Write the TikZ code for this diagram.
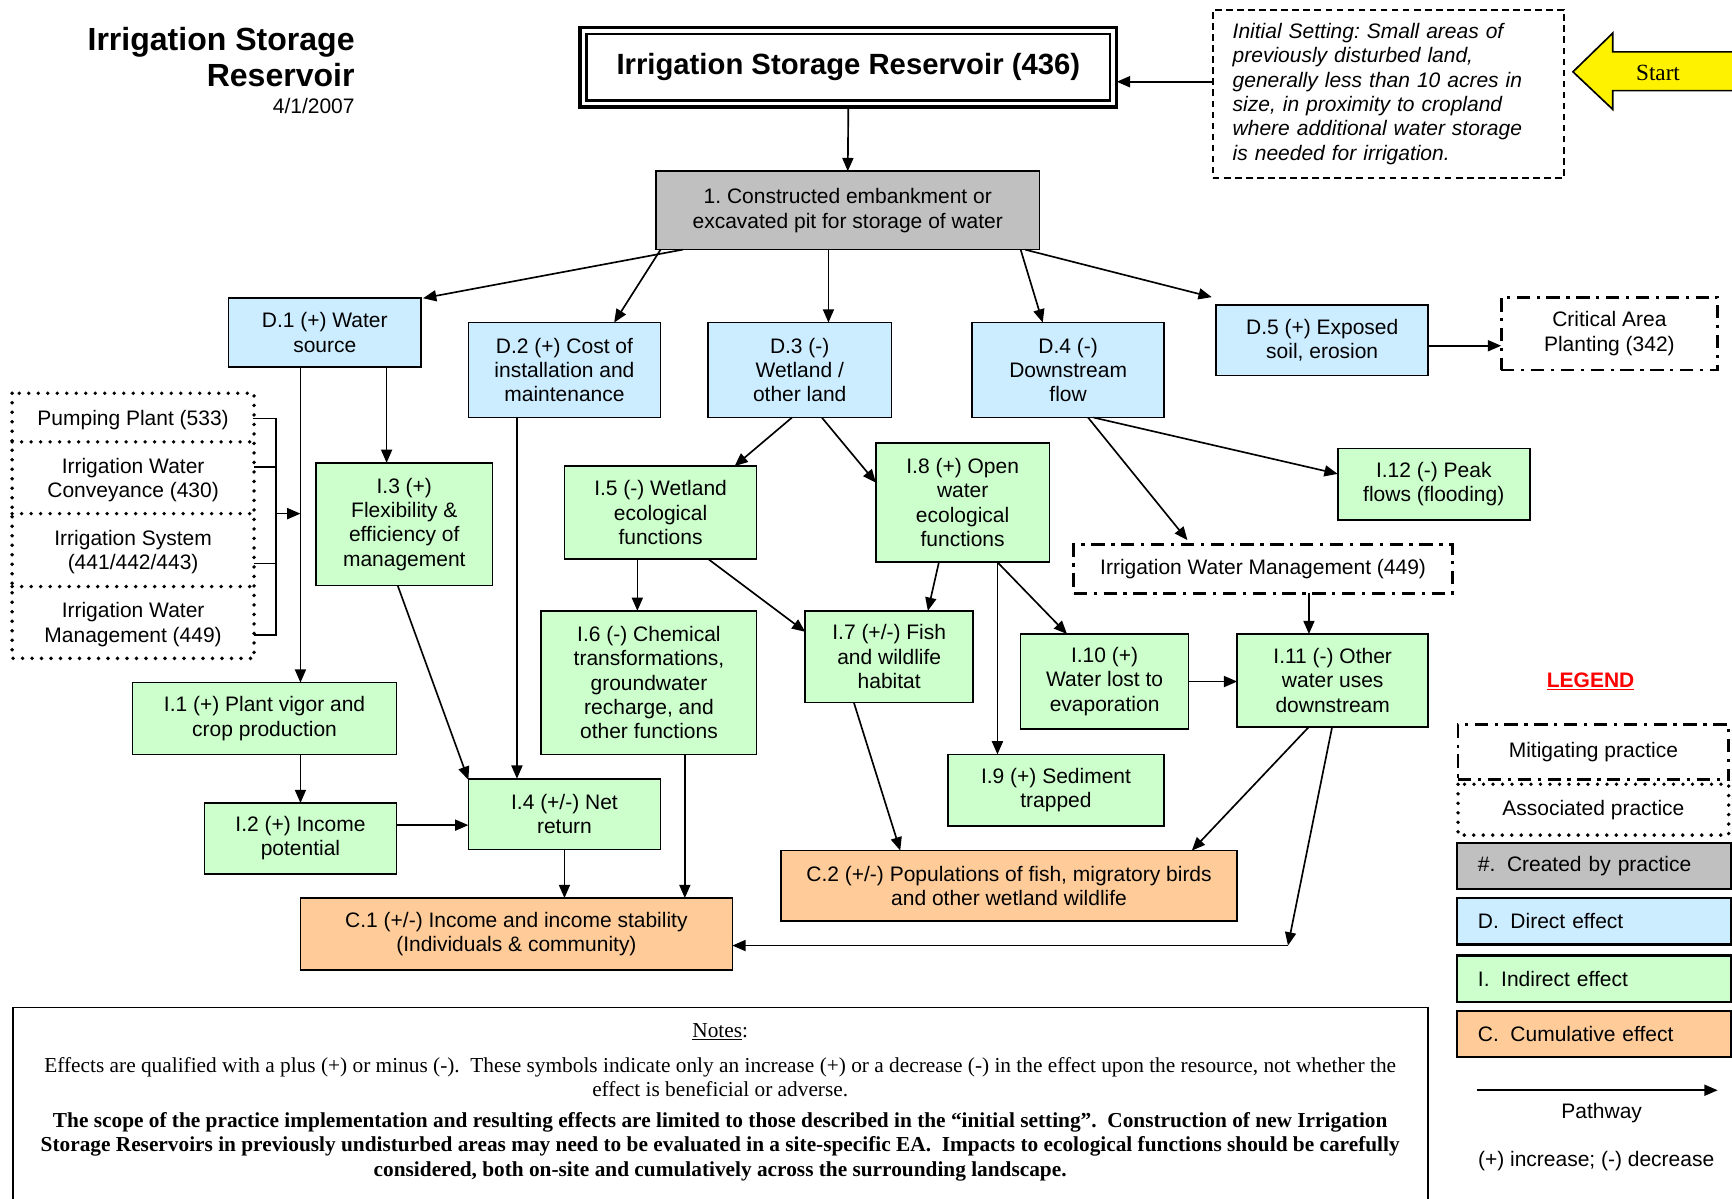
\documentclass[tikz,border=0pt]{standalone}
\usepackage{fontspec}
\setmainfont{Liberation Sans}
\newfontfamily\notesfont{Liberation Serif}
\usetikzlibrary{arrows.meta,calc}

\definecolor{cgray}{HTML}{C0C0C0}
\definecolor{cblue}{HTML}{CCECFF}
\definecolor{cgreen}{HTML}{CCFFCC}
\definecolor{corange}{HTML}{FFCC99}

\begin{document}
\frenchspacing
\begin{tikzpicture}[x=1pt,y=-1pt,
  every node/.style={inner sep=0pt, outer sep=0pt},
  txt/.style={font=\fontsize{19}{22}\selectfont, align=center},
  box/.style={txt, draw, line width=1.5pt, anchor=north west},
  created/.style={box, fill=cgray},
  direct/.style={box, fill=cblue},
  indirect/.style={box, fill=cgreen},
  cumul/.style={box, fill=corange},
  wh/.style 2 args={minimum width=#1pt, minimum height=#2pt},
  mitig/.style={txt, draw, anchor=north west, line width=2.5pt,
    dash pattern=on 12pt off 6pt on 3pt off 6pt},
  assoc/.style={line width=3.5pt, line cap=round, dash pattern=on 0pt off 8.6pt},
  arr/.style={line width=1.5pt, -{Triangle[length=12pt,width=10pt]}},
  conn/.style={line width=1.5pt},
  legbox/.style={box, line width=2pt, text width=210pt, inner xsep=19pt,
    align=left, minimum height=42pt},
  notestxt/.style={font=\fontsize{19.3}{22}\selectfont\notesfont, align=center},
]
\fill[white] (0,0) rectangle (1568,1085);
\useasboundingbox (0,0) rectangle (1568,1085);

% ---- heading ----
\node[font=\fontsize{29}{33}\selectfont\bfseries, anchor=base east] (ttl1) at (321,46) {Irrigation Storage};
\node[font=\fontsize{29}{33}\selectfont\bfseries, anchor=base east] (ttl2) at (321,78) {Reservoir};
\node[font=\fontsize{19}{22}\selectfont, anchor=base east] (date) at (321,103) {4/1/2007};

% ---- practice and setting ----
\node[draw, line width=3pt, wh={486}{72}, anchor=north west,
      font=\fontsize{26.5}{30}\selectfont\bfseries] (rsv) at (525,25)
      {Irrigation Storage Reservoir (436)};
\draw[line width=2pt] ([shift={(6pt,-6pt)}]rsv.north west) rectangle ([shift={(-6pt,6pt)}]rsv.south east);

\node[draw, line width=1.5pt, dash pattern=on 6pt off 4pt, wh={318}{152}, anchor=north west,
      font=\fontsize{19}{22}\selectfont\itshape, align=left, text width=282pt] (init) at (1098,9)
      {Initial Setting: Small areas of\\previously disturbed land,\\generally less than 10 acres in\\size, in proximity to cropland\\where additional water storage\\is needed for irrigation.};

\draw[fill=yellow, line width=1.5pt] (1424,65) -- (1460,30) -- (1460,47) -- (1575,47)
   -- (1575,82) -- (1460,82) -- (1460,99) -- cycle;
\node[font=\fontsize{21}{24}\selectfont\notesfont] (start) at (1501,66) {Start};

\coordinate (initarr) at ([yshift=11pt]init.west);
\draw[arr] (initarr) -- (initarr -| rsv.east);

% ---- created ----
\node[created, wh={347}{71}] (g1) at (594,155) {1. Constructed embankment or\\excavated pit for storage of water};
\draw[arr] (rsv.south) -- (g1.north);

% ---- direct effects ----
\node[direct, wh={174}{62}] (d1) at (207,270) {D.1 (+) Water\\source};
\node[direct, wh={174}{86}] (d2) at (424,292) {D.2 (+) Cost of\\installation and\\maintenance};
\node[direct, wh={166}{86}] (d3) at (641,292) {D.3 (-)\\Wetland /\\other land};
\node[direct, wh={174}{86}] (d4) at (880,292) {D.4 (-)\\Downstream\\flow};
\node[direct, wh={192}{64}] (d5) at (1101,276) {D.5 (+) Exposed\\soil, erosion};
\node[mitig, wh={196}{66}] (crit) at (1359,269) {Critical Area\\Planting (342)};

\draw[arr] ([xshift=24pt]g1.south west) -- ([xshift=2pt]d1.north east);
\draw[arr] ([xshift=4pt]g1.south west) -- ([xshift=132pt]d2.north west);
\draw[arr] ([xshift=156pt]g1.south west) -- ([xshift=109pt]d3.north west);
\draw[arr] ([xshift=330pt]g1.south west) -- ([xshift=64pt]d4.north west);
\draw[arr] ([xshift=334pt]g1.south west) -- ([shift={(-4pt,7pt)}]d5.north west);
\coordinate (d5arr) at ([yshift=-5pt]d5.east);
\draw[arr] (d5arr) -- (d5arr -| crit.west);

% ---- associated practices ----
\node[txt, wh={219}{44}, anchor=north west] (a1) at (11,358) {Pumping Plant (533)};
\node[txt, wh={219}{65}, anchor=north west] (a2) at (11,402) {Irrigation Water\\Conveyance (430)};
\node[txt, wh={219}{66}, anchor=north west] (a3) at (11,467) {Irrigation System\\(441/442/443)};
\node[txt, wh={219}{65}, anchor=north west] (a4) at (11,533) {Irrigation Water\\Management (449)};
\draw[assoc] (11,356) rectangle (230,596);
\draw[assoc] (11,400) -- (230,400);
\draw[assoc] (11,465) -- (230,465);
\draw[assoc] (11,531) -- (230,531);

\coordinate (busT) at (250,379);
\coordinate (busM) at (250,465);
\coordinate (busB) at (250,575);
\coordinate (r1) at ([xshift=-1pt]a1.east);
\coordinate (r2) at ([yshift=11.5pt]a2.east);
\coordinate (r3) at ([yshift=-10pt]a3.east);
\coordinate (r4) at ([yshift=-9.5pt]a4.east);
\coordinate (d1i1) at (272,465);
\draw[conn] (r1 |- busT) -- (busT) -- (busB) -- (r4);
\draw[conn] (r2) -- (r2 -| busT);
\draw[conn] (r3) -- (r3 -| busT);
\draw[arr] (busM) -- (d1i1);

% ---- indirect and cumulative effects ----
\node[indirect, wh={160}{111}] (i3) at (286,419) {I.3 (+)\\Flexibility \&\\efficiency of\\management};
\node[indirect, wh={239}{65}] (i1) at (120,618) {I.1 (+) Plant vigor and\\crop production};
\node[indirect, wh={174}{64}] (i2) at (185,727) {I.2 (+) Income\\potential};
\node[indirect, wh={174}{64}] (i4) at (424,705) {I.4 (+/-) Net\\return};
\node[cumul, wh={391}{65}] (c1) at (272,813) {C.1 (+/-) Income and income stability\\(Individuals \& community)};
\node[indirect, wh={174}{84}] (i5) at (511,422) {I.5 (-) Wetland\\ecological\\functions};
\node[indirect, wh={195}{130}] (i6) at (490,553) {I.6 (-) Chemical\\transformations,\\groundwater\\recharge, and\\other functions};
\node[indirect, wh={157}{108}] (i8) at (793,401) {I.8 (+) Open\\water\\ecological\\functions};
\node[indirect, wh={152}{83}] (i7) at (729,553) {I.7 (+/-) Fish\\and wildlife\\habitat};
\node[indirect, wh={196}{65}] (i9) at (858,683) {I.9 (+) Sediment\\trapped};
\node[indirect, wh={152}{86}] (i10) at (924,574) {I.10 (+)\\Water lost to\\evaporation};
\node[indirect, wh={173}{84}] (i11) at (1120,574) {I.11 (-) Other\\water uses\\downstream};
\node[mitig, wh={343}{44}] (iwm) at (972,493) {Irrigation Water Management (449)};
\node[indirect, wh={174}{65}] (i12) at (1211,406) {I.12 (-) Peak\\flows (flooding)};
\node[cumul, wh={413}{64}] (c2) at (707,770) {C.2 (+/-) Populations of fish, migratory birds\\and other wetland wildlife};

\draw[arr] ([xshift=65pt]d1.south west) -- ([xshift=152pt]i1.north west);
\draw[arr] ([xshift=143pt]d1.south west) -- ([xshift=64pt]i3.north west);
\draw[arr] ([xshift=152pt]i1.south west) -- ([xshift=87pt]i2.north west);
\draw[arr] ([yshift=12pt]i2.east) -- ([yshift=-10pt]i4.west);
\draw[arr] ([xshift=74pt]i3.south west) -- ([yshift=-1pt]i4.north west);
\draw[arr] ([xshift=44pt]d2.south west) -- ([xshift=44pt]i4.north west);
\draw[arr] (i4.south) -- ([xshift=239pt]c1.north west);
\draw[arr] ([xshift=130pt]i6.south west) -- ([xshift=348pt]c1.north west);
\draw[arr] ([xshift=76pt]d3.south west) -- ([xshift=154pt]i5.north west);
\draw[arr] ([xshift=103pt]d3.south west) -- ([yshift=-36pt]i8.north west);
\draw[arr] ([xshift=66pt]i5.south west) -- ([xshift=87pt]i6.north west);
\draw[arr] ([xshift=130pt]i5.south west) -- ([yshift=-19pt]i7.north west);
\draw[arr] ([xshift=57pt]i8.south west) -- ([xshift=111pt]i7.north west);
\draw[arr] ([xshift=110pt]i8.south west) -- ([xshift=45pt]i9.north west);
\draw[arr] ([xshift=110pt]i8.south west) -- ([xshift=42pt]i10.north west);
\draw[arr] (i10.east) -- (i10.east -| i11.west);
\draw[arr] ([xshift=105pt]d4.south west) -- ([shift={(103pt,4pt)}]iwm.north west);
\draw[arr] ([xshift=110pt]d4.south west) -- ([yshift=-23pt]i12.north west);
\draw[arr] ([xshift=213pt]iwm.south west) -- ([xshift=65pt]i11.north west);
\draw[arr] ([xshift=44pt]i7.south west) -- ([xshift=108pt]c2.north west);
\draw[arr] ([xshift=65pt]i11.south west) -- ([xshift=372pt]c2.north west);
\coordinate (cn) at (1166,856);
\draw[arr] ([xshift=86pt]i11.south west) -- (cn);
\draw[arr] (cn) -- (cn -| c1.east);

% ---- legend ----
\node[font=\fontsize{19}{22}\selectfont\bfseries, text=red] (leg) at (1440,617) {\underline{LEGEND}};
\node[mitig, wh={245}{50}] (lm) at (1320,656) {Mitigating practice};
\node[txt, wh={245}{46}, anchor=north west] (la) at (1320,710) {Associated practice};
\draw[assoc] (la.north west) rectangle (la.south east);
\node[legbox, fill=cgray] (lg) at (1319,763) {\#.\hspace{0.55em}Created by practice};
\node[legbox, fill=cblue] (lb) at (1319,813) {D.\hspace{0.55em}Direct effect};
\node[legbox, fill=cgreen] (lgr) at (1319,865) {I.\hspace{0.55em}Indirect effect};
\node[legbox, fill=corange] (lo) at (1319,915) {C.\hspace{0.55em}Cumulative effect};
\coordinate (pw1) at (1337,987);
\coordinate (pw2) at (1555,987);
\draw[arr] (pw1) -- (pw2);
\node[txt] (pwt) at (1450,1008) {Pathway};
\node[txt] (pm) at (1445,1051) {(+) increase; (-) decrease};

% ---- notes ----
\node[draw, line width=1.5pt, wh={1281}{190}, anchor=north west] (notes) at (12,912) {};
\node[notestxt] (nt0) at (652,934) {\underline{Notes}:};
\node[notestxt] (nt1) at (652,975) {Effects are qualified with a plus (+) or minus (-).\ \ These symbols indicate only an increase (+) or a decrease (-) in the effect upon the resource, not whether the\\effect is beneficial or adverse.};
\node[notestxt, font=\fontsize{19.3}{22}\selectfont\notesfont\bfseries] (nt2) at (652,1038) {The scope of the practice implementation and resulting effects are limited to those described in the “initial setting”.\ \ Construction of new Irrigation\\Storage Reservoirs in previously undisturbed areas may need to be evaluated in a site-specific EA.\ \ Impacts to ecological functions should be carefully\\considered, both on-site and cumulatively across the surrounding landscape.};
\end{tikzpicture}
\end{document}
